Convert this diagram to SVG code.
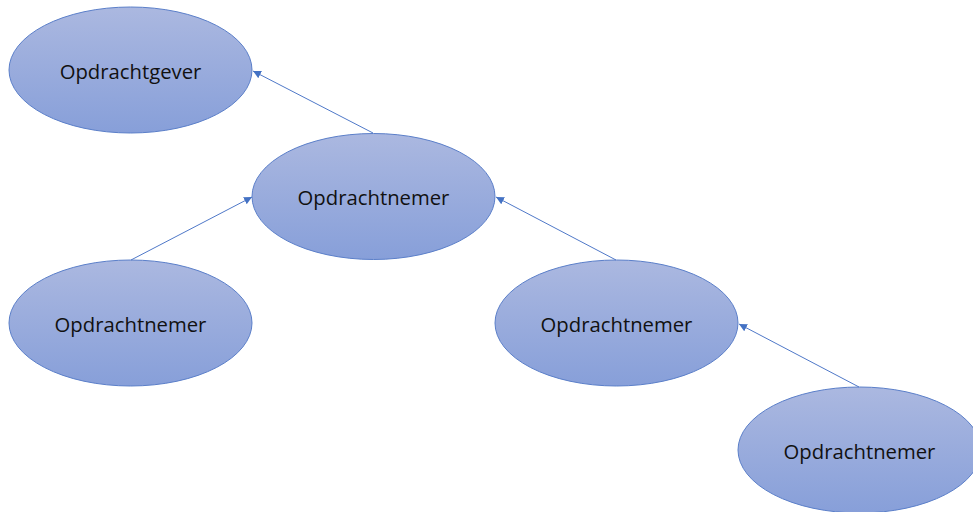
<svg xmlns="http://www.w3.org/2000/svg" width="973" height="512" viewBox="0 0 973 512">
<style>
.node ellipse{fill:url(#g);stroke:#5b7fc9;stroke-width:1}
.node text{font-family:"Open Sans","Liberation Sans",sans-serif;font-size:20.3px;fill:#111;text-anchor:middle;dominant-baseline:central}
.edge{stroke:#4f78c8;stroke-width:1;fill:none;marker-end:url(#a)}
</style>
<defs>
<linearGradient id="g" x1="0" y1="0" x2="0" y2="1">
<stop offset="0" stop-color="#abb8e0"/>
<stop offset="1" stop-color="#879fd9"/>
</linearGradient>
<marker id="a" viewBox="0 0 10 10" refX="10" refY="5" markerWidth="8" markerHeight="8" markerUnits="userSpaceOnUse" orient="auto">
<path d="M0,0L10,5L0,10z" fill="#4472c4"/>
</marker>
</defs>
<rect width="973" height="512" fill="#fff"/>
<g id="n1" class="node"><ellipse cx="130.5" cy="70" rx="121.5" ry="63"/><text x="130.5" y="71">Opdrachtgever</text></g>
<g id="n2" class="node"><ellipse cx="373.5" cy="196.5" rx="121.5" ry="63"/><text x="373.5" y="197">Opdrachtnemer</text></g>
<g id="n3" class="node"><ellipse cx="130.5" cy="323" rx="121.5" ry="63"/><text x="130.5" y="324">Opdrachtnemer</text></g>
<g id="n4" class="node"><ellipse cx="616.5" cy="323" rx="121.5" ry="63"/><text x="616.5" y="324">Opdrachtnemer</text></g>
<g id="n5" class="node"><ellipse cx="859.5" cy="450" rx="121.5" ry="63"/><text x="859.5" y="451">Opdrachtnemer</text></g>
<g id="edges">
<line class="edge" x1="373" y1="133" x2="253" y2="71"/>
<line class="edge" x1="131" y1="260" x2="252" y2="197"/>
<line class="edge" x1="616" y1="260" x2="496" y2="197"/>
<line class="edge" x1="859" y1="387" x2="739" y2="324"/>
</g>
</svg>
